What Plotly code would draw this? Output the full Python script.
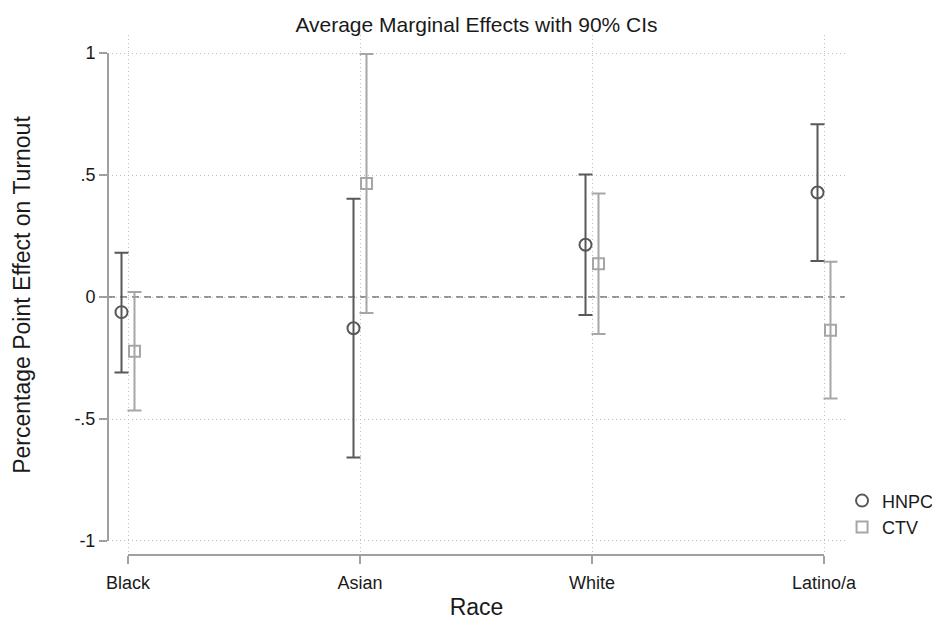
import plotly.graph_objects as go

categories = ["Black", "Asian", "White", "Latino/a"]
hnpc = [-0.062, -0.128, 0.214, 0.428]
hnpc_lo = [-0.309, -0.658, -0.074, 0.148]
hnpc_hi = [0.181, 0.403, 0.502, 0.708]
ctv = [-0.222, 0.465, 0.136, -0.136]
ctv_lo = [-0.465, -0.066, -0.152, -0.416]
ctv_hi = [0.021, 0.996, 0.424, 0.144]
ytick_vals = [-1, -0.5, 0, 0.5, 1]
ytick_text = ["-1", "-.5", "0", ".5", "1"]

FONT = "Liberation Sans, Arial, sans-serif"
TXT = "#1a1a1a"
C1 = "#585858"
C2 = "#a6a6a6"
AX = "#a0a0a0"
off = 0.028
xpos = list(range(1, len(categories) + 1))

fig = go.Figure()
fig.add_trace(go.Scatter(
    x=[p - off for p in xpos], y=hnpc, mode="markers", name="HNPC",
    marker=dict(symbol="circle-open", size=12, color=C1, line=dict(width=2, color=C1)),
    error_y=dict(type="data", symmetric=False,
                 array=[h - v for h, v in zip(hnpc_hi, hnpc)],
                 arrayminus=[v - l for v, l in zip(hnpc, hnpc_lo)],
                 color=C1, thickness=2, width=7),
))
fig.add_trace(go.Scatter(
    x=[p + off for p in xpos], y=ctv, mode="markers", name="CTV",
    marker=dict(symbol="square-open", size=11, color=C2, line=dict(width=2, color=C2)),
    error_y=dict(type="data", symmetric=False,
                 array=[h - v for h, v in zip(ctv_hi, ctv)],
                 arrayminus=[v - l for v, l in zip(ctv, ctv_lo)],
                 color=C2, thickness=2, width=7),
))

# zero reference line
fig.add_shape(type="line", xref="paper", x0=0, x1=1, yref="y", y0=0, y1=0,
              line=dict(color="#707070", width=1.6, dash="7px,5px"), layer="below")
# stata-style axis lines
fig.add_shape(type="line", xref="paper", x0=0, x1=0, yref="y", y0=-1, y1=1,
              line=dict(color=AX, width=2))
fig.add_shape(type="line", xref="x", x0=1, x1=4, yref="paper", y0=0, y1=0,
              line=dict(color=AX, width=2))

fig.update_layout(
    width=932, height=612,
    margin=dict(l=100, r=95, t=27, b=65, autoexpand=False),
    paper_bgcolor="white", plot_bgcolor="white",
    font=dict(family=FONT, color=TXT, size=18),
    title=dict(text="Average Marginal Effects with 90% CIs", x=0.5, xref="paper", xanchor="center",
               y=0.972, yanchor="middle", font=dict(size=21, family=FONT, color=TXT)),
    xaxis=dict(range=[0.9138, 4.0905], tickvals=xpos, ticktext=categories,
               showline=False, zeroline=False, showgrid=True, automargin=False,
               gridcolor="#bdbdbd", griddash="1px,3px", gridwidth=1,
               ticks="outside", ticklen=8, tickwidth=2, tickcolor=AX,
               ticklabelstandoff=3,
               tickfont=dict(size=18, family=FONT, color=TXT),
               title=dict(text="Race", font=dict(size=23, family=FONT, color=TXT), standoff=10)),
    yaxis=dict(range=[-1.0574, 1.0738], tickvals=ytick_vals, ticktext=ytick_text,
               showline=False, zeroline=False, showgrid=True, automargin=False,
               gridcolor="#bdbdbd", griddash="1px,3px", gridwidth=1,
               ticks="outside", ticklen=8, tickwidth=2, tickcolor=AX,
               tickfont=dict(size=18, family=FONT, color=TXT),
               title=dict(text="Percentage Point Effect on Turnout",
                          font=dict(size=23, family=FONT, color=TXT), standoff=37)),
    legend=dict(x=0.996, xanchor="left", y=0.079, yanchor="middle",
                font=dict(size=18, family=FONT, color=TXT),
                bgcolor="rgba(0,0,0,0)", itemwidth=30),
    showlegend=True,
)

fig.write_html("out.html")
